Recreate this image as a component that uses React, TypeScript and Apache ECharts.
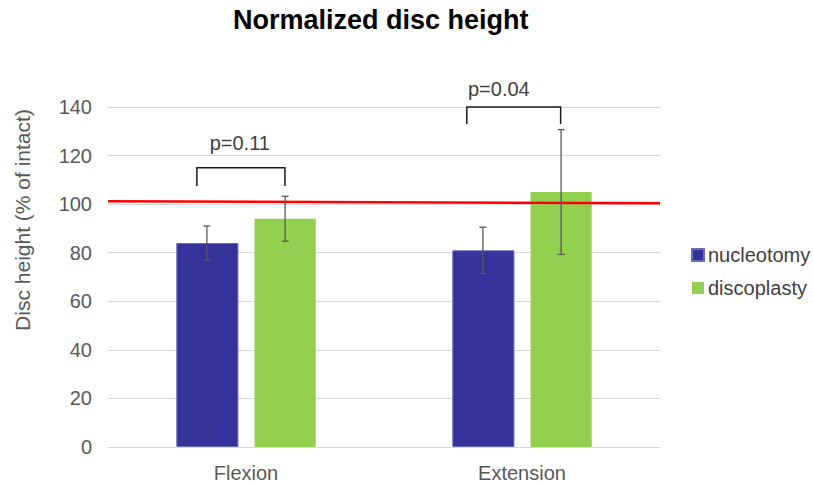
import React, { useEffect, useRef } from "react";
import * as echarts from "echarts";

const categories = ["Flexion", "Extension"];
const seriesNames = ["nucleotomy", "discoplasty"];
const nucleotomy = [84, 81];
const discoplasty = [94, 105];
const nucleotomySD = [7, 9.5];
const discoplastySD = [9.25, 25.7];
const yTicks = [0, 20, 40, 60, 80, 100, 120, 140];
const referenceLine = [101.2, 100.4];
const bracketLabels = ["p=0.11", "p=0.04"];
const bracketTop = [115, 140];
const bracketBottom = [107.5, 133];

// layout (fractions of a category band / pixel offsets)
const BAR_W = 0.225;
const BAR_GAP = 0.26;
const bracketLeft = [-0.178, -0.2];
const bracketRight = [0.141, 0.14];
const labelShift = [-0.004, -0.054];
const labelLift = [25, 18];

const FONT = "Liberation Sans, Arial, sans-serif";

export default function App() {
  const ref = useRef<HTMLDivElement>(null);
  useEffect(() => {
    if (!ref.current) return;
    const chart = echarts.init(ref.current, undefined, { renderer: "svg" });

    const errData: number[][] = [];
    categories.forEach((_, i) => {
      errData.push([i, nucleotomy[i] - nucleotomySD[i], nucleotomy[i] + nucleotomySD[i], 0]);
      errData.push([i, discoplasty[i] - discoplastySD[i], discoplasty[i] + discoplastySD[i], 1]);
    });
    const bracketData = categories.map((_, i) => [i, bracketTop[i], bracketBottom[i]]);

    chart.setOption({
      animation: false,
      title: {
        text: "Normalized disc height",
        left: 233,
        top: 6,
        padding: 0,
        textStyle: { fontFamily: FONT, fontSize: 27, fontWeight: "bold", color: "#000" },
      },
      legend: {
        orient: "vertical",
        left: 686,
        top: 240,
        itemWidth: 12,
        itemHeight: 12,
        itemGap: 13,
        icon: "rect",
        data: seriesNames,
        textStyle: { fontFamily: FONT, fontSize: 20, color: "#404040", padding: [0, 0, 0, -1] },
      },
      grid: { left: 108, right: 153, top: 107, bottom: 39, containLabel: false },
      xAxis: [
        {
          type: "category",
          data: categories,
          axisLine: { lineStyle: { color: "#d9d9d9", width: 1 } },
          axisTick: { show: false },
          axisLabel: { fontFamily: FONT, fontSize: 20, color: "#595959", margin: 16 },
        },
        { type: "value", min: 0, max: 1, show: false },
      ],
      yAxis: {
        type: "value",
        min: yTicks[0],
        max: yTicks[yTicks.length - 1],
        interval: 20,
        axisLine: { show: false },
        axisTick: { show: false },
        splitLine: { lineStyle: { color: "#d9d9d9", width: 1 } },
        axisLabel: { fontFamily: FONT, fontSize: 20, color: "#595959", margin: 16 },
      },
      graphic: [
        {
          type: "text",
          x: 22,
          y: 220,
          rotation: Math.PI / 2,
          style: {
            text: "Disc height (% of intact)",
            font: `21px ${FONT}`,
            fill: "#595959",
            align: "center",
            verticalAlign: "middle",
          },
        },
      ],
      series: [
        {
          name: seriesNames[0],
          type: "bar",
          data: nucleotomy,
          barWidth: BAR_W * 100 + "%",
          barGap: BAR_GAP * 100 + "%",
          itemStyle: { color: "#333399", borderColor: "#6b6bbd", borderWidth: 1 },
        },
        {
          name: seriesNames[1],
          type: "bar",
          data: discoplasty,
          itemStyle: { color: "#92d050" },
        },
        {
          type: "line",
          xAxisIndex: 1,
          data: [
            [0, referenceLine[0]],
            [1, referenceLine[1]],
          ],
          symbol: "none",
          lineStyle: { color: "#ff0000", width: 2.5 },
          z: 5,
        },
        {
          type: "custom",
          data: errData,
          z: 6,
          renderItem: (params: any, api: any) => {
            const cat = api.value(0);
            const band = api.size([1, 0])[0];
            const w = BAR_W * band;
            const off = (w + w * BAR_GAP) / 2;
            const s = api.value(3);
            const lo = api.coord([cat, api.value(1)]);
            const hi = api.coord([cat, api.value(2)]);
            const x = lo[0] + (s === 0 ? -off : off);
            const cap = 3.5;
            const style = { stroke: "#595959", lineWidth: 1.3 };
            return {
              type: "group",
              children: [
                { type: "line", shape: { x1: x, y1: lo[1], x2: x, y2: hi[1] }, style },
                { type: "line", shape: { x1: x - cap, y1: lo[1], x2: x + cap, y2: lo[1] }, style },
                { type: "line", shape: { x1: x - cap, y1: hi[1], x2: x + cap, y2: hi[1] }, style },
              ],
            };
          },
        },
        {
          type: "custom",
          data: bracketData,
          z: 6,
          renderItem: (params: any, api: any) => {
            const i = params.dataIndex;
            const cat = api.value(0);
            const band = api.size([1, 0])[0];
            const top = api.coord([cat, api.value(1)]);
            const bot = api.coord([cat, api.value(2)]);
            const xl = top[0] + bracketLeft[i] * band;
            const xr = top[0] + bracketRight[i] * band;
            const style = { stroke: "#1a1a1a", lineWidth: 1.5, fill: null };
            return {
              type: "group",
              children: [
                {
                  type: "polyline",
                  shape: {
                    points: [
                      [xl, bot[1]],
                      [xl, top[1]],
                      [xr, top[1]],
                      [xr, bot[1]],
                    ],
                  },
                  style,
                },
                {
                  type: "text",
                  x: (xl + xr) / 2 + labelShift[i] * band,
                  y: top[1] - labelLift[i],
                  style: {
                    text: bracketLabels[i],
                    font: `20px ${FONT}`,
                    fill: "#404040",
                    align: "center",
                    verticalAlign: "middle",
                  },
                },
              ],
            };
          },
        },
      ],
    });
    return () => chart.dispose();
  }, []);
  return (
    <div
      ref={ref}
      style={{ position: "absolute", left: 0, top: 0, width: 813, height: 486 }}
    />
  );
}
